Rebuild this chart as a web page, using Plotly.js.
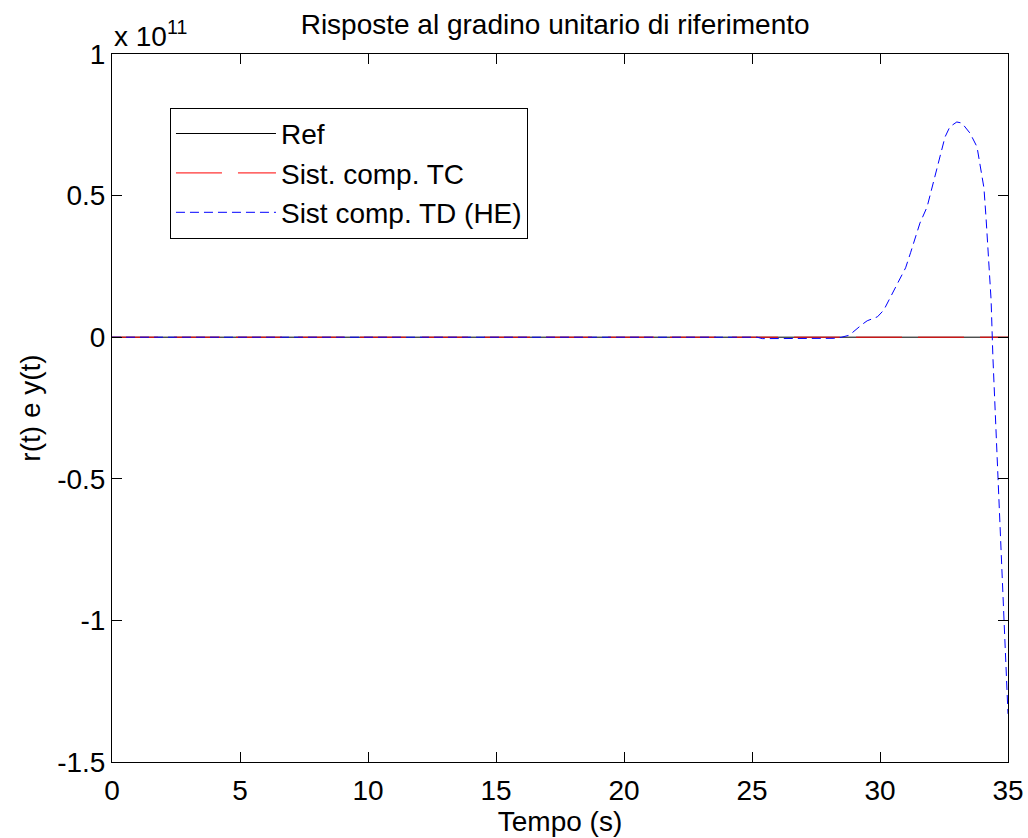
<!DOCTYPE html>
<html>
<head>
<meta charset="utf-8">
<script src="https://cdn.plot.ly/plotly-3.0.1.min.js"></script>
<style>html,body{margin:0;padding:0;background:#fff;}#chart{width:1028px;height:838px;}</style>
</head>
<body>
<div id="chart"></div>
<script>
// Values in units of 1e11
const refTime = [0, 35];
const refValues = [1e-11, 1e-11];
const tcTime = [0, 35];
const tcValues = [1e-11, 1e-11];
const tdTime = [0, 25.2, 25.4, 26.5, 28.2, 28.5, 28.8, 29.3, 29.5, 29.9, 30.15, 30.4, 30.7, 31.0, 31.2, 31.56, 31.84, 32.15, 32.34, 32.54, 32.73, 33.0, 33.2, 33.52, 33.79, 33.98, 34.06, 34.14, 34.22, 34.34, 34.41, 34.61, 34.73, 34.84, 35.0];
const tdValues = [0, 0, -0.005, -0.005, -0.004, 0.0, 0.007, 0.045, 0.058, 0.072, 0.096, 0.14, 0.195, 0.245, 0.30, 0.403, 0.46, 0.566, 0.637, 0.707, 0.743, 0.76, 0.756, 0.72, 0.672, 0.58, 0.527, 0.425, 0.31, 0.131, -0.07, -0.496, -0.801, -1.0, -1.33];
const xTicks = [0, 5, 10, 15, 20, 25, 30, 35];
const yTicks = [-1.5, -1, -0.5, 0, 0.5, 1];
const yTickLabels = ['-1.5', '-1', '-0.5', '0', '0.5', '1'];

const FONT = 'Liberation Sans, Arial, Helvetica, sans-serif';
const FS = 28;

const traces = [
  {x: refTime, y: refValues, mode: 'lines', name: 'Ref',
   line: {color: '#000000', width: 1}},
  {x: tcTime, y: tcValues, mode: 'lines', name: 'Sist. comp. TC',
   line: {color: '#ff0000', width: 1, dash: '46px,16px'}},
  {x: tdTime, y: tdValues, mode: 'lines', name: 'Sist comp. TD (HE)',
   line: {color: '#0000ff', width: 1, dash: '9px,5px'}}
];

const layout = {
  width: 1028, height: 838,
  margin: {l: 112, r: 20, t: 54, b: 76},
  paper_bgcolor: '#ffffff', plot_bgcolor: '#ffffff',
  font: {family: FONT, size: FS, color: '#000'},
  showlegend: true,
  title: {text: 'Risposte al gradino unitario di riferimento', font: {family: FONT, size: FS, color: '#000'},
          x: 0.54, xref: 'container', xanchor: 'center', y: 0.971, yref: 'container', yanchor: 'middle'},
  xaxis: {range: [0, 35], tickvals: xTicks, ticktext: xTicks.map(String),
          ticks: 'inside', ticklen: 10, tickcolor: '#000', tickwidth: 1,
          showline: true, linecolor: '#000', linewidth: 1, mirror: 'ticks',
          showgrid: false, zeroline: false, tickfont: {size: FS}, ticklabelstandoff: 3,
          title: {text: 'Tempo (s)', font: {size: FS}, standoff: 6}},
  yaxis: {range: [-1.5, 1], tickvals: yTicks, ticktext: yTickLabels,
          ticks: 'inside', ticklen: 10, tickcolor: '#000', tickwidth: 1,
          showline: true, linecolor: '#000', linewidth: 1, mirror: 'ticks',
          showgrid: false, zeroline: false, tickfont: {size: FS},
          title: {text: 'r(t) e y(t)', font: {size: FS}, standoff: 8}},
  legend: {x: 0.0647, y: 0.924, xanchor: 'left', yanchor: 'top',
           bgcolor: '#ffffff', bordercolor: '#000', borderwidth: 1,
           font: {size: FS}, itemwidth: 100, tracegroupgap: 0},
  annotations: [
    {text: 'x 10<sup>11</sup>', xref: 'paper', yref: 'paper', x: 0, y: 1,
     xanchor: 'left', yanchor: 'bottom', yshift: 0, showarrow: false, font: {size: FS}}
  ]
};

Plotly.newPlot('chart', traces, layout, {displayModeBar: false, staticPlot: true});
</script>
</body>
</html>
